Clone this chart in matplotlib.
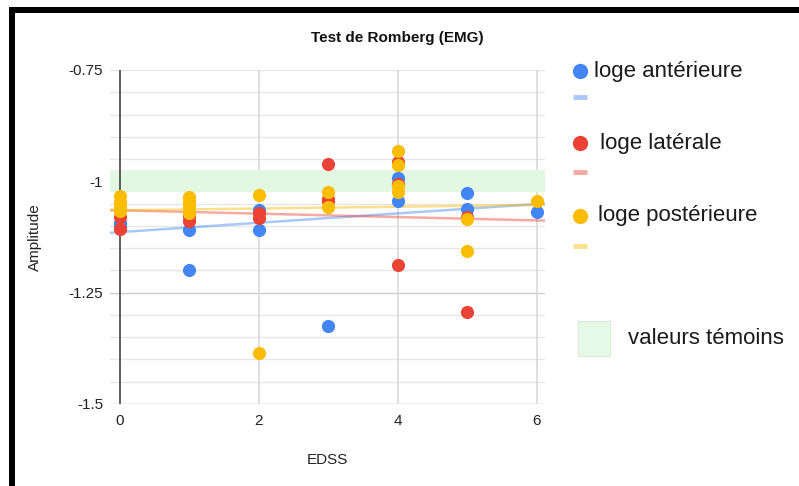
import matplotlib.pyplot as plt
from matplotlib.lines import Line2D
from matplotlib.patches import Rectangle
import numpy as np

plt.rcParams['font.family'] = ['Liberation Sans', 'DejaVu Sans']

W, H = 799, 486

series_names = ["loge antérieure", " loge latérale", "loge postérieure"]
series_colors = ["#4285f4", "#ea4335", "#fbbc04"]

# EDSS / amplitude
ant_edss = [0, 0, 1, 1, 2, 2, 3, 4, 4, 5, 5, 6]
ant_amp = [-1.094, -1.103, -1.110, -1.199, -1.065, -1.110, -1.325,
           -0.993, -1.044, -1.026, -1.062, -1.069]

lat_edss = [0, 0, 1, 1, 2, 2, 3, 3, 3, 4, 4, 4, 5, 5]
lat_amp = [-1.080, -1.107, -1.078, -1.088, -1.072, -1.082, -0.960,
           -1.040, -1.044, -0.957, -1.006, -1.188, -1.080, -1.294]

post_edss = [0, 0, 0, 0, 1, 1, 1, 1, 2, 2, 3, 3, 4, 4, 4, 4, 5, 5, 6]
post_amp = [-1.033, -1.047, -1.058, -1.067, -1.035, -1.047, -1.058, -1.072,
            -1.031, -1.386, -1.025, -1.057, -0.932, -0.963, -1.010, -1.024,
            -1.085, -1.157, -1.044]

# linear trend lines (intercept, slope) as shown on the chart
trend_intercept = [-1.114, -1.065, -1.065]
trend_slope = [0.0105, -0.0038, 0.0020]

# control values band
band_low, band_high = -1.025, -0.975

y_ticks = [-1.5, -1.25, -1.0, -0.75]
y_tick_labels = ["-1.5", "-1.25", "-1", "-0.75"]
x_ticks = [0, 2, 4, 6]


def fx(px):
    return px / W


def fy(py):
    return 1 - py / H


def main():
    fig = plt.figure(figsize=(W / 100, H / 100), dpi=100)
    ax = fig.add_axes([fx(110), fy(404), 435 / W, 334 / H])
    xlim = (-0.144, 6.12)
    ax.set_xlim(*xlim)
    ax.set_ylim(-1.5, -0.75)

    for s in ax.spines.values():
        s.set_visible(False)

    # grid
    for v in np.arange(-1.5, -0.749, 0.05):
        v = round(v, 2)
        if v == -1.5:
            c = "#bdbdbd"
        elif v in (-1.0, -1.25):
            c = "#cccccc"
        else:
            c = "#e6e6e6"
        ax.axhline(v, color=c, lw=1, zorder=1)
    for v in x_ticks[1:]:
        ax.axvline(v, color="#d9d9d9", lw=1.2, zorder=1)
    ax.axvline(0, color="#444444", lw=1.2, zorder=2)

    ax.axhspan(band_low, band_high, color="#e3f8e3", zorder=1.5, lw=0)

    xs = np.array(xlim)
    data = [(ant_edss, ant_amp), (lat_edss, lat_amp), (post_edss, post_amp)]
    for (ex, am), col, b, m in zip(data, series_colors, trend_intercept, trend_slope):
        ax.plot(xs, b + m * xs, color=col, alpha=0.45, lw=1.8, zorder=3)
    for (ex, am), col in zip(data, series_colors):
        ax.plot(ex, am, "o", color=col, markersize=9.5, mec="none", zorder=4)

    ax.set_yticks(y_ticks)
    ax.set_yticklabels(y_tick_labels)
    ax.set_xticks(x_ticks)
    ax.tick_params(length=0, labelsize=11, colors="#222222")
    ax.tick_params(axis="y", pad=5)
    ax.tick_params(axis="x", pad=7)

    fig.text(fx(397), fy(38), "Test de Romberg (EMG)", ha="center",
             va="center", fontsize=11, fontweight="bold", color="#111111")
    fig.text(fx(327), fy(460), "EDSS", ha="center", va="center",
             fontsize=11, color="#222222")
    fig.text(fx(35), fy(237), "Amplitude", ha="center", va="center",
             rotation=90, fontsize=11, color="#222222")

    # legend, drawn by hand
    dot_y = [71, 143, 216]
    dash_y = [97, 172, 246]
    text_x = [594, 594, 598]
    for name, col, dy, ly, tx in zip(series_names, series_colors, dot_y, dash_y, text_x):
        fig.add_artist(Line2D([fx(580)], [fy(dy)], marker="o", markersize=11,
                              color=col, mec="none", transform=fig.transFigure))
        fig.add_artist(Line2D([fx(573), fx(587)], [fy(ly), fy(ly)], lw=3.5,
                              color=col, alpha=0.45, solid_capstyle="butt",
                              transform=fig.transFigure))
        fig.text(fx(tx), fy(dy), name, ha="left", va="center", fontsize=16,
                 color="#1a1a1a")
    fig.add_artist(Rectangle((fx(578), fy(356)), 32 / W, 35 / H,
                             facecolor="#e6f9e6", edgecolor="#d8ecd8", lw=0.8,
                             transform=fig.transFigure))
    fig.text(fx(628), fy(338), "valeurs témoins", ha="left", va="center",
             fontsize=16, color="#1a1a1a")

    # black frame of the screenshot
    fig.add_artist(Rectangle((fx(9), 0), 6 / W, fy(7), facecolor="black",
                             edgecolor="none", transform=fig.transFigure))
    fig.add_artist(Rectangle((fx(9), fy(13)), 1 - fx(9), 6 / H,
                             facecolor="black", edgecolor="none",
                             transform=fig.transFigure))

    fig.savefig("out.png", dpi=100)


if __name__ == "__main__":
    main()
